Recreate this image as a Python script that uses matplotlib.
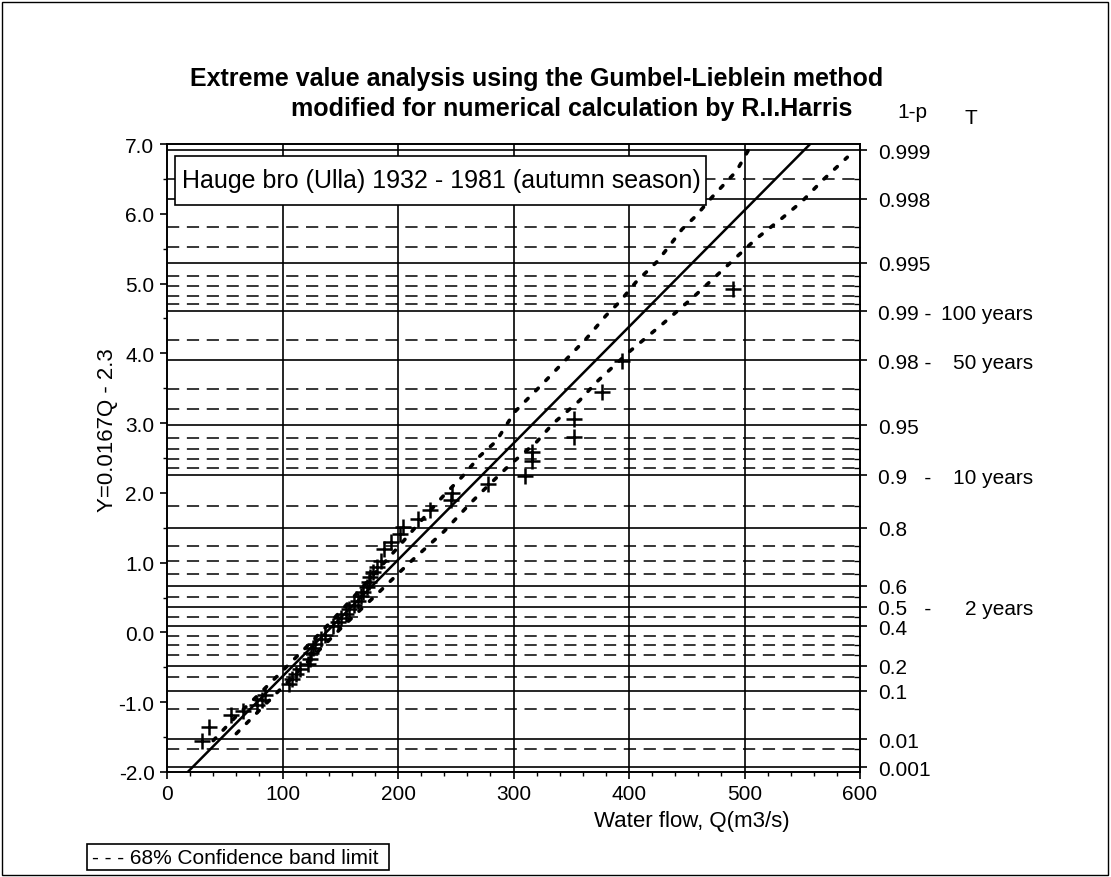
import numpy as np
import matplotlib
matplotlib.use('Agg')
from matplotlib import pyplot as plt
from matplotlib import transforms
from matplotlib.patches import Rectangle

plt.rcParams['font.family'] = ['Liberation Sans', 'DejaVu Sans']

# annual (autumn) floods, Hauge bro (Ulla) 1932-1981, plotted as (Q, reduced variate Y)
flow = [30, 36, 55, 66, 78, 82, 85, 106, 108, 112, 115, 122, 124, 125, 126,
        128, 133, 137, 144, 148, 151, 155, 158, 162, 165, 168, 170, 173, 175,
        176, 178, 182, 185, 188, 194, 202, 204, 217, 228, 246, 247, 278, 310,
        316, 316, 352, 352, 377, 394, 490]
yred = [-1.55, -1.35, -1.19, -1.12, -1.04, -0.97, -0.90, -0.74, -0.67, -0.60,
        -0.53, -0.45, -0.38, -0.30, -0.23, -0.16, -0.09, -0.03, 0.09, 0.15,
        0.21, 0.27, 0.33, 0.39, 0.45, 0.52, 0.58, 0.65, 0.72, 0.79, 0.86,
        0.94, 1.02, 1.20, 1.30, 1.41, 1.51, 1.63, 1.76, 1.90, 2.00, 2.13,
        2.24, 2.45, 2.59, 2.80, 3.06, 3.45, 3.89, 4.92]

# fitted line Y = 0.0167Q - 2.3
slope = 0.0167
icpt = -2.3

# 68% confidence band limits
upper_q = [40, 60, 80, 100, 120, 140, 160, 180, 200, 220, 240, 256, 271, 285,
           301, 325, 346, 363, 380, 392, 406, 424, 435, 446, 458, 472, 493, 504]
upper_y = [-1.55, -1.20, -0.88, -0.55, -0.22, 0.12, 0.48, 0.85, 1.22, 1.60,
           1.97, 2.24, 2.53, 2.74, 3.16, 3.56, 3.92, 4.21, 4.54, 4.74, 5.02,
           5.31, 5.54, 5.78, 5.97, 6.24, 6.61, 6.93]
lower_q = [60, 90, 120, 150, 180, 210, 240, 262, 271, 296, 320, 334, 357, 372,
           400, 429, 456, 484, 510, 532, 550, 567, 589]
lower_y = [-1.45, -0.95, -0.45, 0.05, 0.52, 1.00, 1.45, 1.84, 1.99, 2.39,
           2.73, 2.99, 3.32, 3.59, 4.02, 4.42, 4.81, 5.24, 5.64, 5.93, 6.18,
           6.47, 6.81]

# probability grid (1-p)
main_p = [0.999, 0.998, 0.995, 0.99, 0.98, 0.95, 0.9, 0.8, 0.6, 0.5, 0.4,
          0.2, 0.1, 0.01, 0.001]
main_lbl = ['0.999', '0.998', '0.995', '0.99 -', '0.98 -', '0.95', '0.9   -',
            '0.8', '0.6', '0.5   -', '0.4', '0.2', '0.1', '0.01', '0.001']
minor_p = [0.9985, 0.997, 0.996, 0.994, 0.993, 0.992, 0.991, 0.985, 0.97,
           0.96, 0.94, 0.93, 0.92, 0.91, 0.85, 0.75, 0.7, 0.65, 0.55, 0.45,
           0.35, 0.3, 0.25, 0.15, 0.05, 0.005]
period_p = [0.99, 0.98, 0.9, 0.5]
period_lbl = ['100 years', '50 years', '10 years', '2 years']


def gumbel(p):
    return -np.log(-np.log(np.asarray(p, dtype=float)))


W, H = 1111, 878
fig = plt.figure(figsize=(W / 100, H / 100), dpi=100)
ax = fig.add_axes([167 / W, 1 - 773 / H, (860 - 167) / W, (773 - 145) / H])

# grid
for y in gumbel(main_p):
    ax.axhline(y, color='black', lw=1.2, zorder=1)
for y in gumbel(minor_p):
    ax.axhline(y, color='black', lw=1.1, ls=(0, (8, 5)), zorder=1)
for x in [100, 200, 300, 400, 500]:
    ax.axvline(x, color='black', lw=1.2, zorder=1)

# fitted line, bands, data
qq = np.array([0, 600])
ax.plot(qq, slope * qq + icpt, color='black', lw=1.8, zorder=3)
ax.plot(upper_q, upper_y, color='black', lw=2.6, ls=(0, (1, 3)),
        dash_capstyle='round', zorder=3)
ax.plot(lower_q, lower_y, color='black', lw=2.6, ls=(0, (1, 3)),
        dash_capstyle='round', zorder=3)
ax.plot(flow, yred, '+', color='black', ms=11, mew=1.8, zorder=4)

ax.set_xlim(0, 600)
ax.set_ylim(-2, 7)
ax.set_xticks(range(0, 601, 100))
ax.set_xticks(range(0, 601, 20), minor=True)
ax.set_yticks(range(-2, 8))
ax.set_yticklabels(['%.1f' % v for v in range(-2, 8)])
ax.set_yticks(np.arange(-2, 7.01, 0.5), minor=True)
ax.tick_params(axis='both', which='major', direction='out', length=5,
               width=1.2, labelsize=15, pad=4)
ax.tick_params(axis='both', which='minor', direction='out', length=3, width=1)
for s in ax.spines.values():
    s.set_linewidth(1.4)

# right axis with 1-p values
ax2 = ax.twinx()
ax2.set_ylim(-2, 7)
ax2.set_yticks(gumbel(main_p))
ax2.set_yticklabels(main_lbl)
ax2.set_yticks(gumbel(minor_p), minor=True)
ax2.tick_params(axis='y', which='major', direction='out', length=5, width=1.2,
                labelsize=15, pad=8)
ax2.tick_params(axis='y', which='minor', direction='in', length=4, width=1)
for s in ax2.spines.values():
    s.set_visible(False)

tr = transforms.blended_transform_factory(fig.transFigure, ax.transData)
for p, lbl in zip(period_p, period_lbl):
    fig.text(1033 / W, gumbel(p), lbl, transform=tr, fontsize=15,
             ha='right', va='center_baseline')

fig.text(912 / W, 1 - 112 / H, '1-p', fontsize=15, ha='center', va='center')
fig.text(971 / W, 1 - 118 / H, 'T', fontsize=15, ha='center', va='center')

# titles and labels
fig.text(537 / W, 1 - 86 / H,
         'Extreme value analysis using the Gumbel-Lieblein method',
         fontsize=18, fontweight='bold', ha='center', va='baseline')
fig.text(852 / W, 1 - 116 / H,
         'modified for numerical calculation by R.I.Harris',
         fontsize=18, fontweight='bold', ha='right', va='baseline')
fig.text(692 / W, 1 - 822 / H, 'Water flow, Q(m3/s)', fontsize=16,
         ha='center', va='center')
fig.text(107 / W, 1 - 430 / H, 'Y=0.0167Q - 2.3', fontsize=16,
         ha='center', va='center', rotation=90)


def box(x0, y0, x1, y1):
    r = Rectangle((x0 / W, 1 - y1 / H), (x1 - x0) / W, (y1 - y0) / H,
                  transform=fig.transFigure, facecolor='white',
                  edgecolor='black', lw=1.2, zorder=5)
    fig.add_artist(r)


box(175, 157, 706, 206)
fig.text(182 / W, 1 - 188 / H,
         'Hauge bro (Ulla) 1932 - 1981 (autumn season)', fontsize=18,
         ha='left', va='baseline', zorder=6)

box(87, 845, 389, 871)
fig.text(92 / W, 1 - 864 / H, '- - - 68% Confidence band limit', fontsize=15,
         ha='left', va='baseline', zorder=6)

# outer frame
fig.add_artist(Rectangle((2 / W, 2 / H), (W - 5) / W, (H - 5) / H,
                         transform=fig.transFigure, fill=False,
                         edgecolor='black', lw=1, zorder=7))

fig.savefig('out.png', dpi=100)
